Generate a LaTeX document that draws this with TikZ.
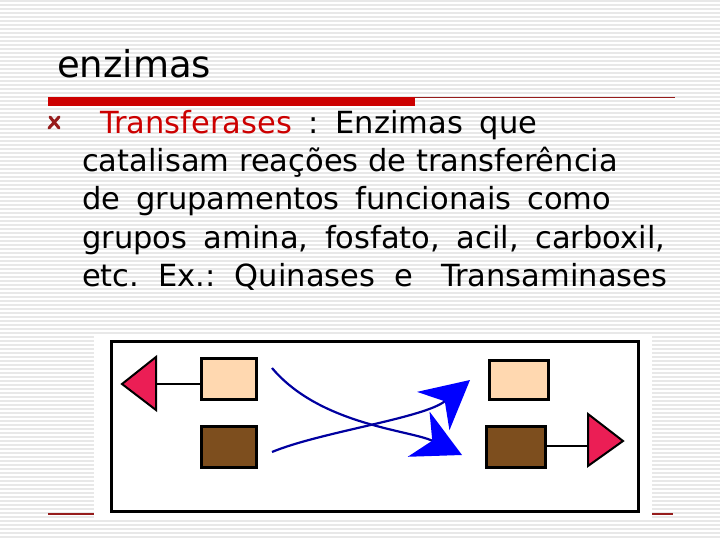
\documentclass[tikz,border=0pt]{standalone}
\usepackage{fontspec}
\setmainfont{DejaVu Sans}
\usetikzlibrary{arrows.meta}
\definecolor{slidered}{RGB}{204,0,0}
\definecolor{darkred}{RGB}{150,28,28}
\definecolor{peach}{RGB}{255,216,176}
\definecolor{brownbox}{RGB}{125,78,30}
\definecolor{pinktri}{RGB}{235,30,85}
\definecolor{navyline}{RGB}{0,0,160}
\newcommand{\textline}[2]{\makebox[#1pt][s]{\frenchspacing #2}}
\tikzset{
  box/.style={draw=black, line width=3pt, inner sep=0},
  txt/.style={anchor=base west, inner sep=0, font=\fontsize{30.5}{36}\selectfont},
  tri/.style={draw=black, line width=2pt, fill=pinktri},
  transfer/.style={navyline, line width=2.2pt, -{Stealth[length=48pt, width=50pt, inset=15pt, color=blue]}}
}

\begin{document}
\begin{tikzpicture}[x=1pt, y=-1pt]
\useasboundingbox (0,0) rectangle (720,540);
% striped background
\foreach \y in {1,5,...,540} {
  \draw[black!9, line width=2pt] (0,\y)--(720,\y);
}
% title and rules
\node[txt, font=\fontsize{37}{44}\selectfont] (title) at (57,78) {enzimas};
\fill[slidered] (48,97) rectangle (415,106);
\draw[darkred, line width=1.5pt] (415,97.5)--(675,97.5);
\draw[darkred, line width=2pt] (48,514)--(673,514);
% bullet
\draw[darkred, line width=3pt, line cap=round] (50,117)--(59,128) (59,117)--(49,128);
% text
\node[txt] (line1) at (100,134) {\textline{437}{\textcolor{slidered}{Transferases} : Enzimas que}};
\node[txt] (line2) at (82,172) {catalisam reações de transferência};
\node[txt] (line3) at (82,210) {\textline{529}{de grupamentos funcionais como}};
\node[txt] (line4) at (82,248) {\textline{583}{grupos amina, fosfato, acil, carboxil,}};
\node[txt] (line5) at (82,286) {\textline{585}{etc. Ex.: Quinases e\hspace*{9pt} Transaminases}};
% diagram
\fill[white] (94,336) rectangle (652,519);
\draw[line width=3pt] (111,341) rectangle (638,511);

\node[box, fill=peach, minimum width=55pt, minimum height=41pt] (peachL) at (229,379) {};
\node[box, fill=brownbox, minimum width=55pt, minimum height=41pt] (brownL) at (229,447) {};
\node[box, fill=peach, minimum width=59pt, minimum height=39pt] (peachR) at (519,380) {};
\node[box, fill=brownbox, minimum width=59pt, minimum height=41pt] (brownR) at (516,447) {};

\filldraw[tri] (122,384) -- (156,357) -- (156,410) -- cycle;
\coordinate (triL) at (156,384);
\filldraw[tri] (623,441) -- (588,414) -- (588,466) -- cycle;
\coordinate (triR) at (588,446);
\draw[line width=2pt] (triL) -- (triL -| peachL.west);
\draw[line width=2pt] (brownR.east |- triR) -- (triR);

\coordinate (srcA) at (272,368);
\coordinate (srcB) at (272,452);
\coordinate (tipA) at (470,380);
\coordinate (tipB) at (462,455);
\draw[transfer] (srcA) .. controls (320,425) and (410,430) .. (tipB);
\draw[transfer] (srcB) .. controls (320,432) and (425,418) .. (tipA);
\end{tikzpicture}
\end{document}
